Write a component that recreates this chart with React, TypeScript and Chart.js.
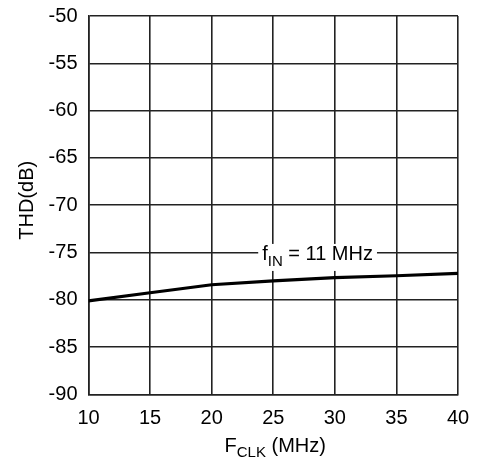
import React, { useEffect, useRef } from "react";
import { Chart, registerables } from "chart.js";

Chart.register(...registerables);

const fclk = [10, 15, 20, 25, 30, 35, 40];
const thd = [-80.1, -79.25, -78.4, -78.0, -77.65, -77.45, -77.2];
const xTicks = [10, 15, 20, 25, 30, 35, 40];
const yTicks = [-90, -85, -80, -75, -70, -65, -60, -55, -50];
const seriesLabel = { main: "f", sub: "IN", rest: " = 11 MHz", x: 28.6, y: -75.25 };
const xTitle = { main: "F", sub: "CLK", rest: " (MHz)" };
const yTitle = "THD(dB)";

const FONT = "'Liberation Sans', Arial, sans-serif";
const BIG = 20;
const SMALL = 15;

function drawSub(ctx: CanvasRenderingContext2D, cx: number, cy: number, main: string, sub: string, rest: string, big: number, small: number) {
  ctx.font = `${big}px ${FONT}`;
  const w1 = ctx.measureText(main).width;
  const w3 = ctx.measureText(rest).width;
  ctx.font = `${small}px ${FONT}`;
  const w2 = ctx.measureText(sub).width;
  const total = w1 + w2 + w3;
  let x = cx - total / 2;
  ctx.textBaseline = "middle";
  ctx.textAlign = "left";
  ctx.fillStyle = "#000";
  ctx.font = `${big}px ${FONT}`;
  ctx.fillText(main, x, cy);
  x += w1;
  ctx.font = `${small}px ${FONT}`;
  ctx.fillText(sub, x, cy + 7);
  x += w2;
  ctx.font = `${big}px ${FONT}`;
  ctx.fillText(rest, x, cy);
  return total;
}

const textPlugin = {
  id: "texts",
  afterDraw(chart: any) {
    const ctx: CanvasRenderingContext2D = chart.ctx;
    const xs = chart.scales.x;
    const ys = chart.scales.y;
    ctx.save();
    const lx = xs.getPixelForValue(seriesLabel.x);
    const ly = ys.getPixelForValue(seriesLabel.y);
    ctx.font = `${BIG}px ${FONT}`;
    const w = ctx.measureText(seriesLabel.main + seriesLabel.rest).width;
    ctx.font = `${SMALL}px ${FONT}`;
    const w2 = ctx.measureText(seriesLabel.sub).width;
    const tw = w + w2;
    ctx.fillStyle = "#fff";
    ctx.fillRect(lx - tw / 2 - 4, ly - 11, tw + 8, 27);
    drawSub(ctx, lx, ly, seriesLabel.main, seriesLabel.sub, seriesLabel.rest, BIG, SMALL);
    const area = chart.chartArea;
    drawSub(ctx, (area.left + area.right) / 2 + 2, 446, xTitle.main, xTitle.sub, xTitle.rest, BIG, SMALL);
    ctx.translate(27.5, (area.top + area.bottom) / 2 - 5);
    ctx.rotate(-Math.PI / 2);
    ctx.font = `${BIG}px ${FONT}`;
    ctx.textAlign = "center";
    ctx.textBaseline = "middle";
    ctx.fillStyle = "#000";
    ctx.fillText(yTitle, 0, 0);
    ctx.restore();
  },
};

export default function App() {
  const ref = useRef<HTMLCanvasElement>(null);
  useEffect(() => {
    if (!ref.current) return;
    const chart = new Chart(ref.current, {
      type: "line",
      data: {
        datasets: [
          {
            data: fclk.map((x, i) => ({ x, y: thd[i] })),
            borderColor: "#000",
            borderWidth: 3.2,
            pointRadius: 0,
            tension: 0,
            fill: false,
          },
        ],
      },
      options: {
        animation: false,
        responsive: false,
        devicePixelRatio: 1,
        layout: { padding: { top: 16, right: 23, left: 0, bottom: 0 } },
        plugins: { legend: { display: false }, tooltip: { enabled: false } },
        scales: {
          x: {
            type: "linear",
            min: 10,
            max: 40,
            afterBuildTicks: (s: any) => {
              s.ticks = xTicks.map((v) => ({ value: v }));
            },
            afterFit: (s: any) => {
              s.height = 69.5;
              s.paddingLeft = 0;
              s.paddingRight = 0;
            },
            grid: { color: "#222", lineWidth: 1.6, drawTicks: false },
            border: { color: "#222", width: 1.6 },
            ticks: {
              color: "#000",
              padding: 12,
              font: { family: FONT, size: BIG },
              maxRotation: 0,
            },
          },
          y: {
            type: "linear",
            min: -90,
            max: -50,
            afterBuildTicks: (s: any) => {
              s.ticks = yTicks.map((v) => ({ value: v }));
            },
            afterFit: (s: any) => {
              s.width = 88.5;
              s.paddingTop = 0;
              s.paddingBottom = 0;
            },
            grid: { color: "#222", lineWidth: 1.6, drawTicks: false },
            border: { color: "#222", width: 1.6 },
            ticks: {
              color: "#000",
              padding: 11,
              font: { family: FONT, size: BIG },
            },
          },
        },
      },
      plugins: [textPlugin],
    });
    return () => chart.destroy();
  }, []);
  return (
    <div style={{ position: "fixed", left: 0, top: 0, width: 481, height: 464, background: "#fff" }}>
      <canvas ref={ref} width={481} height={464} style={{ width: 481, height: 464 }} />
    </div>
  );
}
